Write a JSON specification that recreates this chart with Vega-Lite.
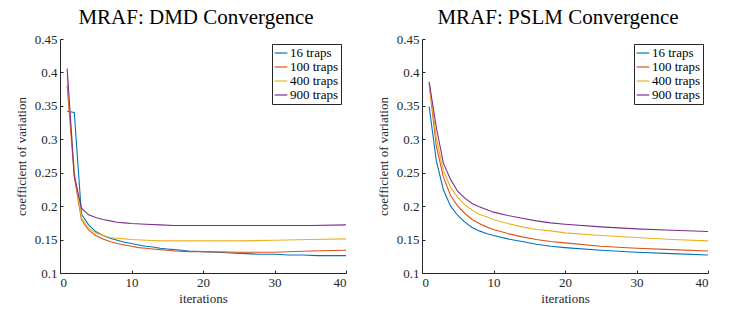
{
  "$schema": "https://vega.github.io/schema/vega-lite/v6.json",
  "background": "white",
  "padding": {"left": 15, "top": 7, "right": 5, "bottom": 5},
  "config": {
    "font": "Liberation Serif",
    "view": {"stroke": null},
    "title": {"fontSize": 21, "fontWeight": "normal", "color": "#000000", "font": "Liberation Serif", "offset": 5, "dx": -7},
    "axis": {
      "grid": false,
      "domainColor": "#262626",
      "tickColor": "#262626",
      "labelColor": "#262626",
      "titleColor": "#262626",
      "labelFont": "Liberation Serif",
      "titleFont": "Liberation Serif",
      "labelFontSize": 13,
      "titleFontSize": 13,
      "titleFontWeight": "normal",
      "tickSize": -3,
      "labelPadding": 6
    },
    "legend": {
      "labelFont": "Liberation Serif",
      "labelFontSize": 13,
      "labelColor": "#000000"
    }
  },
  "datasets": {
    "cv": [
      {"method": "DMD", "traps": "16 traps", "iter": 1, "cv": 0.342},
      {"method": "DMD", "traps": "16 traps", "iter": 2, "cv": 0.340},
      {"method": "DMD", "traps": "16 traps", "iter": 3, "cv": 0.188},
      {"method": "DMD", "traps": "16 traps", "iter": 4, "cv": 0.172},
      {"method": "DMD", "traps": "16 traps", "iter": 5, "cv": 0.162},
      {"method": "DMD", "traps": "16 traps", "iter": 6, "cv": 0.156},
      {"method": "DMD", "traps": "16 traps", "iter": 7, "cv": 0.152},
      {"method": "DMD", "traps": "16 traps", "iter": 8, "cv": 0.149},
      {"method": "DMD", "traps": "16 traps", "iter": 9, "cv": 0.146},
      {"method": "DMD", "traps": "16 traps", "iter": 10, "cv": 0.144},
      {"method": "DMD", "traps": "16 traps", "iter": 11, "cv": 0.142},
      {"method": "DMD", "traps": "16 traps", "iter": 12, "cv": 0.140},
      {"method": "DMD", "traps": "16 traps", "iter": 13, "cv": 0.139},
      {"method": "DMD", "traps": "16 traps", "iter": 14, "cv": 0.137},
      {"method": "DMD", "traps": "16 traps", "iter": 15, "cv": 0.136},
      {"method": "DMD", "traps": "16 traps", "iter": 16, "cv": 0.135},
      {"method": "DMD", "traps": "16 traps", "iter": 17, "cv": 0.134},
      {"method": "DMD", "traps": "16 traps", "iter": 18, "cv": 0.133},
      {"method": "DMD", "traps": "16 traps", "iter": 20, "cv": 0.132},
      {"method": "DMD", "traps": "16 traps", "iter": 22, "cv": 0.131},
      {"method": "DMD", "traps": "16 traps", "iter": 24, "cv": 0.130},
      {"method": "DMD", "traps": "16 traps", "iter": 26, "cv": 0.129},
      {"method": "DMD", "traps": "16 traps", "iter": 28, "cv": 0.128},
      {"method": "DMD", "traps": "16 traps", "iter": 30, "cv": 0.128},
      {"method": "DMD", "traps": "16 traps", "iter": 32, "cv": 0.127},
      {"method": "DMD", "traps": "16 traps", "iter": 34, "cv": 0.127},
      {"method": "DMD", "traps": "16 traps", "iter": 36, "cv": 0.126},
      {"method": "DMD", "traps": "16 traps", "iter": 38, "cv": 0.126},
      {"method": "DMD", "traps": "16 traps", "iter": 40, "cv": 0.126},
      {"method": "DMD", "traps": "100 traps", "iter": 1, "cv": 0.381},
      {"method": "DMD", "traps": "100 traps", "iter": 2, "cv": 0.244},
      {"method": "DMD", "traps": "100 traps", "iter": 3, "cv": 0.180},
      {"method": "DMD", "traps": "100 traps", "iter": 4, "cv": 0.164},
      {"method": "DMD", "traps": "100 traps", "iter": 5, "cv": 0.156},
      {"method": "DMD", "traps": "100 traps", "iter": 6, "cv": 0.151},
      {"method": "DMD", "traps": "100 traps", "iter": 7, "cv": 0.147},
      {"method": "DMD", "traps": "100 traps", "iter": 8, "cv": 0.144},
      {"method": "DMD", "traps": "100 traps", "iter": 9, "cv": 0.142},
      {"method": "DMD", "traps": "100 traps", "iter": 10, "cv": 0.140},
      {"method": "DMD", "traps": "100 traps", "iter": 11, "cv": 0.138},
      {"method": "DMD", "traps": "100 traps", "iter": 12, "cv": 0.137},
      {"method": "DMD", "traps": "100 traps", "iter": 13, "cv": 0.136},
      {"method": "DMD", "traps": "100 traps", "iter": 14, "cv": 0.135},
      {"method": "DMD", "traps": "100 traps", "iter": 15, "cv": 0.134},
      {"method": "DMD", "traps": "100 traps", "iter": 16, "cv": 0.133},
      {"method": "DMD", "traps": "100 traps", "iter": 18, "cv": 0.132},
      {"method": "DMD", "traps": "100 traps", "iter": 20, "cv": 0.132},
      {"method": "DMD", "traps": "100 traps", "iter": 25, "cv": 0.131},
      {"method": "DMD", "traps": "100 traps", "iter": 30, "cv": 0.131},
      {"method": "DMD", "traps": "100 traps", "iter": 35, "cv": 0.133},
      {"method": "DMD", "traps": "100 traps", "iter": 40, "cv": 0.134},
      {"method": "DMD", "traps": "400 traps", "iter": 1, "cv": 0.395},
      {"method": "DMD", "traps": "400 traps", "iter": 2, "cv": 0.252},
      {"method": "DMD", "traps": "400 traps", "iter": 3, "cv": 0.182},
      {"method": "DMD", "traps": "400 traps", "iter": 4, "cv": 0.167},
      {"method": "DMD", "traps": "400 traps", "iter": 5, "cv": 0.160},
      {"method": "DMD", "traps": "400 traps", "iter": 6, "cv": 0.156},
      {"method": "DMD", "traps": "400 traps", "iter": 7, "cv": 0.153},
      {"method": "DMD", "traps": "400 traps", "iter": 8, "cv": 0.152},
      {"method": "DMD", "traps": "400 traps", "iter": 9, "cv": 0.151},
      {"method": "DMD", "traps": "400 traps", "iter": 10, "cv": 0.150},
      {"method": "DMD", "traps": "400 traps", "iter": 12, "cv": 0.149},
      {"method": "DMD", "traps": "400 traps", "iter": 14, "cv": 0.148},
      {"method": "DMD", "traps": "400 traps", "iter": 17, "cv": 0.148},
      {"method": "DMD", "traps": "400 traps", "iter": 20, "cv": 0.148},
      {"method": "DMD", "traps": "400 traps", "iter": 25, "cv": 0.148},
      {"method": "DMD", "traps": "400 traps", "iter": 30, "cv": 0.149},
      {"method": "DMD", "traps": "400 traps", "iter": 35, "cv": 0.150},
      {"method": "DMD", "traps": "400 traps", "iter": 40, "cv": 0.151},
      {"method": "DMD", "traps": "900 traps", "iter": 1, "cv": 0.406},
      {"method": "DMD", "traps": "900 traps", "iter": 2, "cv": 0.245},
      {"method": "DMD", "traps": "900 traps", "iter": 3, "cv": 0.197},
      {"method": "DMD", "traps": "900 traps", "iter": 4, "cv": 0.187},
      {"method": "DMD", "traps": "900 traps", "iter": 5, "cv": 0.183},
      {"method": "DMD", "traps": "900 traps", "iter": 6, "cv": 0.180},
      {"method": "DMD", "traps": "900 traps", "iter": 7, "cv": 0.178},
      {"method": "DMD", "traps": "900 traps", "iter": 8, "cv": 0.176},
      {"method": "DMD", "traps": "900 traps", "iter": 9, "cv": 0.175},
      {"method": "DMD", "traps": "900 traps", "iter": 10, "cv": 0.174},
      {"method": "DMD", "traps": "900 traps", "iter": 12, "cv": 0.173},
      {"method": "DMD", "traps": "900 traps", "iter": 14, "cv": 0.172},
      {"method": "DMD", "traps": "900 traps", "iter": 16, "cv": 0.171},
      {"method": "DMD", "traps": "900 traps", "iter": 20, "cv": 0.171},
      {"method": "DMD", "traps": "900 traps", "iter": 25, "cv": 0.171},
      {"method": "DMD", "traps": "900 traps", "iter": 30, "cv": 0.171},
      {"method": "DMD", "traps": "900 traps", "iter": 35, "cv": 0.171},
      {"method": "DMD", "traps": "900 traps", "iter": 40, "cv": 0.172},
      {"method": "PSLM", "traps": "16 traps", "iter": 1, "cv": 0.349},
      {"method": "PSLM", "traps": "16 traps", "iter": 2, "cv": 0.268},
      {"method": "PSLM", "traps": "16 traps", "iter": 3, "cv": 0.224},
      {"method": "PSLM", "traps": "16 traps", "iter": 4, "cv": 0.200},
      {"method": "PSLM", "traps": "16 traps", "iter": 5, "cv": 0.186},
      {"method": "PSLM", "traps": "16 traps", "iter": 6, "cv": 0.176},
      {"method": "PSLM", "traps": "16 traps", "iter": 7, "cv": 0.168},
      {"method": "PSLM", "traps": "16 traps", "iter": 8, "cv": 0.163},
      {"method": "PSLM", "traps": "16 traps", "iter": 9, "cv": 0.159},
      {"method": "PSLM", "traps": "16 traps", "iter": 10, "cv": 0.156},
      {"method": "PSLM", "traps": "16 traps", "iter": 12, "cv": 0.151},
      {"method": "PSLM", "traps": "16 traps", "iter": 14, "cv": 0.147},
      {"method": "PSLM", "traps": "16 traps", "iter": 16, "cv": 0.143},
      {"method": "PSLM", "traps": "16 traps", "iter": 18, "cv": 0.140},
      {"method": "PSLM", "traps": "16 traps", "iter": 20, "cv": 0.138},
      {"method": "PSLM", "traps": "16 traps", "iter": 25, "cv": 0.134},
      {"method": "PSLM", "traps": "16 traps", "iter": 30, "cv": 0.131},
      {"method": "PSLM", "traps": "16 traps", "iter": 35, "cv": 0.129},
      {"method": "PSLM", "traps": "16 traps", "iter": 40, "cv": 0.127},
      {"method": "PSLM", "traps": "100 traps", "iter": 1, "cv": 0.383},
      {"method": "PSLM", "traps": "100 traps", "iter": 2, "cv": 0.290},
      {"method": "PSLM", "traps": "100 traps", "iter": 3, "cv": 0.243},
      {"method": "PSLM", "traps": "100 traps", "iter": 4, "cv": 0.216},
      {"method": "PSLM", "traps": "100 traps", "iter": 5, "cv": 0.200},
      {"method": "PSLM", "traps": "100 traps", "iter": 6, "cv": 0.189},
      {"method": "PSLM", "traps": "100 traps", "iter": 7, "cv": 0.180},
      {"method": "PSLM", "traps": "100 traps", "iter": 8, "cv": 0.174},
      {"method": "PSLM", "traps": "100 traps", "iter": 9, "cv": 0.169},
      {"method": "PSLM", "traps": "100 traps", "iter": 10, "cv": 0.165},
      {"method": "PSLM", "traps": "100 traps", "iter": 12, "cv": 0.159},
      {"method": "PSLM", "traps": "100 traps", "iter": 14, "cv": 0.154},
      {"method": "PSLM", "traps": "100 traps", "iter": 16, "cv": 0.150},
      {"method": "PSLM", "traps": "100 traps", "iter": 18, "cv": 0.147},
      {"method": "PSLM", "traps": "100 traps", "iter": 20, "cv": 0.145},
      {"method": "PSLM", "traps": "100 traps", "iter": 25, "cv": 0.140},
      {"method": "PSLM", "traps": "100 traps", "iter": 30, "cv": 0.137},
      {"method": "PSLM", "traps": "100 traps", "iter": 35, "cv": 0.135},
      {"method": "PSLM", "traps": "100 traps", "iter": 40, "cv": 0.133},
      {"method": "PSLM", "traps": "400 traps", "iter": 1, "cv": 0.385},
      {"method": "PSLM", "traps": "400 traps", "iter": 2, "cv": 0.302},
      {"method": "PSLM", "traps": "400 traps", "iter": 3, "cv": 0.253},
      {"method": "PSLM", "traps": "400 traps", "iter": 4, "cv": 0.228},
      {"method": "PSLM", "traps": "400 traps", "iter": 5, "cv": 0.213},
      {"method": "PSLM", "traps": "400 traps", "iter": 6, "cv": 0.202},
      {"method": "PSLM", "traps": "400 traps", "iter": 7, "cv": 0.194},
      {"method": "PSLM", "traps": "400 traps", "iter": 8, "cv": 0.188},
      {"method": "PSLM", "traps": "400 traps", "iter": 9, "cv": 0.184},
      {"method": "PSLM", "traps": "400 traps", "iter": 10, "cv": 0.180},
      {"method": "PSLM", "traps": "400 traps", "iter": 12, "cv": 0.174},
      {"method": "PSLM", "traps": "400 traps", "iter": 14, "cv": 0.169},
      {"method": "PSLM", "traps": "400 traps", "iter": 16, "cv": 0.165},
      {"method": "PSLM", "traps": "400 traps", "iter": 18, "cv": 0.163},
      {"method": "PSLM", "traps": "400 traps", "iter": 20, "cv": 0.160},
      {"method": "PSLM", "traps": "400 traps", "iter": 25, "cv": 0.156},
      {"method": "PSLM", "traps": "400 traps", "iter": 30, "cv": 0.153},
      {"method": "PSLM", "traps": "400 traps", "iter": 35, "cv": 0.150},
      {"method": "PSLM", "traps": "400 traps", "iter": 40, "cv": 0.148},
      {"method": "PSLM", "traps": "900 traps", "iter": 1, "cv": 0.386},
      {"method": "PSLM", "traps": "900 traps", "iter": 2, "cv": 0.318},
      {"method": "PSLM", "traps": "900 traps", "iter": 3, "cv": 0.264},
      {"method": "PSLM", "traps": "900 traps", "iter": 4, "cv": 0.240},
      {"method": "PSLM", "traps": "900 traps", "iter": 5, "cv": 0.222},
      {"method": "PSLM", "traps": "900 traps", "iter": 6, "cv": 0.212},
      {"method": "PSLM", "traps": "900 traps", "iter": 7, "cv": 0.204},
      {"method": "PSLM", "traps": "900 traps", "iter": 8, "cv": 0.199},
      {"method": "PSLM", "traps": "900 traps", "iter": 9, "cv": 0.195},
      {"method": "PSLM", "traps": "900 traps", "iter": 10, "cv": 0.191},
      {"method": "PSLM", "traps": "900 traps", "iter": 12, "cv": 0.186},
      {"method": "PSLM", "traps": "900 traps", "iter": 14, "cv": 0.182},
      {"method": "PSLM", "traps": "900 traps", "iter": 16, "cv": 0.178},
      {"method": "PSLM", "traps": "900 traps", "iter": 18, "cv": 0.175},
      {"method": "PSLM", "traps": "900 traps", "iter": 20, "cv": 0.173},
      {"method": "PSLM", "traps": "900 traps", "iter": 25, "cv": 0.169},
      {"method": "PSLM", "traps": "900 traps", "iter": 30, "cv": 0.166},
      {"method": "PSLM", "traps": "900 traps", "iter": 35, "cv": 0.164},
      {"method": "PSLM", "traps": "900 traps", "iter": 40, "cv": 0.162}
    ]
  },
  "hconcat": [
    {
      "title": "MRAF: DMD Convergence",
      "width": 286,
      "height": 234,
      "data": {"name": "cv"},
      "transform": [{"filter": "datum.method === 'DMD'"}],
      "mark": {"type": "line", "strokeWidth": 1.1, "clip": true},
      "encoding": {
        "x": {"field": "iter", "type": "quantitative", "title": "iterations",
              "scale": {"domain": [0, 40], "nice": false},
              "axis": {"values": [0, 10, 20, 30, 40], "titlePadding": 3}},
        "y": {"field": "cv", "type": "quantitative", "title": "coefficient of variation",
              "scale": {"domain": [0.1, 0.45], "nice": false, "zero": false},
              "axis": {"values": [0.1, 0.15, 0.2, 0.25, 0.3, 0.35, 0.4, 0.45], "format": "~g", "titlePadding": 6}},
        "color": {"field": "traps", "type": "nominal",
                  "scale": {"domain": ["16 traps", "100 traps", "400 traps", "900 traps"],
                            "range": ["#0072BD", "#D95319", "#EDB120", "#7E2F8E"]},
                  "legend": {"title": null, "orient": "top-right", "offset": 5,
                             "symbolType": "stroke", "symbolSize": 160, "symbolStrokeWidth": 1.2,
                             "strokeColor": "#262626", "fillColor": "white", "padding": 2,
                             "rowPadding": 0, "labelOffset": 2, "symbolOffset": 0}}
      }
    },
    {
      "title": "MRAF: PSLM Convergence",
      "width": 286,
      "height": 234,
      "data": {"name": "cv"},
      "transform": [{"filter": "datum.method === 'PSLM'"}],
      "mark": {"type": "line", "strokeWidth": 1.1, "clip": true},
      "encoding": {
        "x": {"field": "iter", "type": "quantitative", "title": "iterations",
              "scale": {"domain": [0, 40], "nice": false},
              "axis": {"values": [0, 10, 20, 30, 40], "titlePadding": 3}},
        "y": {"field": "cv", "type": "quantitative", "title": "coefficient of variation",
              "scale": {"domain": [0.1, 0.45], "nice": false, "zero": false},
              "axis": {"values": [0.1, 0.15, 0.2, 0.25, 0.3, 0.35, 0.4, 0.45], "format": "~g", "titlePadding": 6}},
        "color": {"field": "traps", "type": "nominal",
                  "scale": {"domain": ["16 traps", "100 traps", "400 traps", "900 traps"],
                            "range": ["#0072BD", "#D95319", "#EDB120", "#7E2F8E"]},
                  "legend": {"title": null, "orient": "top-right", "offset": 5,
                             "symbolType": "stroke", "symbolSize": 160, "symbolStrokeWidth": 1.2,
                             "strokeColor": "#262626", "fillColor": "white", "padding": 2,
                             "rowPadding": 0, "labelOffset": 2, "symbolOffset": 0}}
      }
    }
  ],
  "resolve": {"scale": {"color": "independent"}},
  "spacing": 30
}
